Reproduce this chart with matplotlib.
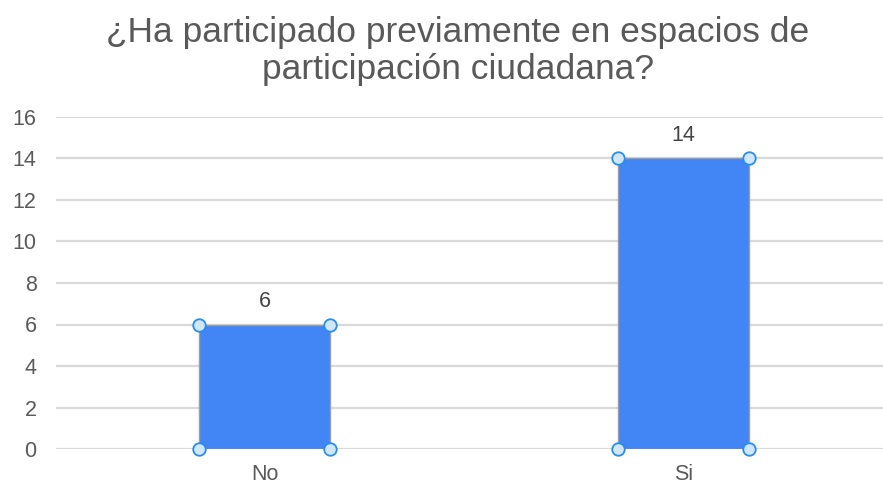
import matplotlib
matplotlib.use("Agg")
import matplotlib.pyplot as plt

categories = ["No", "Si"]
values = [6, 14]
yticks = [0, 2, 4, 6, 8, 10, 12, 14, 16]
title = "¿Ha participado previamente en espacios de\nparticipación ciudadana?"

plt.rcParams['font.family'] = ['Liberation Sans', 'DejaVu Sans']

W, H = 883, 483
fig = plt.figure(figsize=(W / 100, H / 100), dpi=100)
ax = fig.add_axes([56 / W, 34 / H, 1 - 56 / W, (449 - 117) / H])

x = list(range(len(categories)))
bw = 0.313
bars = ax.bar(x, values, width=bw, color="#4285F4", edgecolor="#9e9e9e",
              linewidth=1.0, zorder=3)

# selection handles at bar corners
for xi, v in zip(x, values):
    xs = [xi - bw / 2, xi + bw / 2, xi - bw / 2, xi + bw / 2]
    ys = [0, 0, v, v]
    ax.plot(xs, ys, linestyle="none", marker="o", markersize=9,
            markerfacecolor="#cfe6fb", markeredgecolor="#2a8de8",
            markeredgewidth=1.3, zorder=5, clip_on=False)
    ax.annotate(str(v), (xi, v), xytext=(0, 9), textcoords="offset points",
                ha="center", va="bottom", fontsize=15.5, color="#444444")

ax.set_xlim(-0.498, 1.476)
ax.set_ylim(0, 16)
ax.set_yticks(yticks)
ax.set_yticklabels([str(t) for t in yticks])
ax.set_xticks(x)
ax.set_xticklabels(categories)
ax.tick_params(axis="both", length=0, labelsize=15.5, labelcolor="#5a5a5a")
ax.tick_params(axis="y", pad=14)
ax.tick_params(axis="x", pad=10.5)
ax.grid(axis="y", color="#d9d9d9", linewidth=1.6, zorder=0)
ax.set_axisbelow(True)
for s in ax.spines.values():
    s.set_visible(False)

fig.text(458 / W, 1 - 51 / H, title, ha="center", va="center",
         fontsize=25.5, color="#595959", linespacing=1.16)

fig.savefig("out.png", dpi=100)
